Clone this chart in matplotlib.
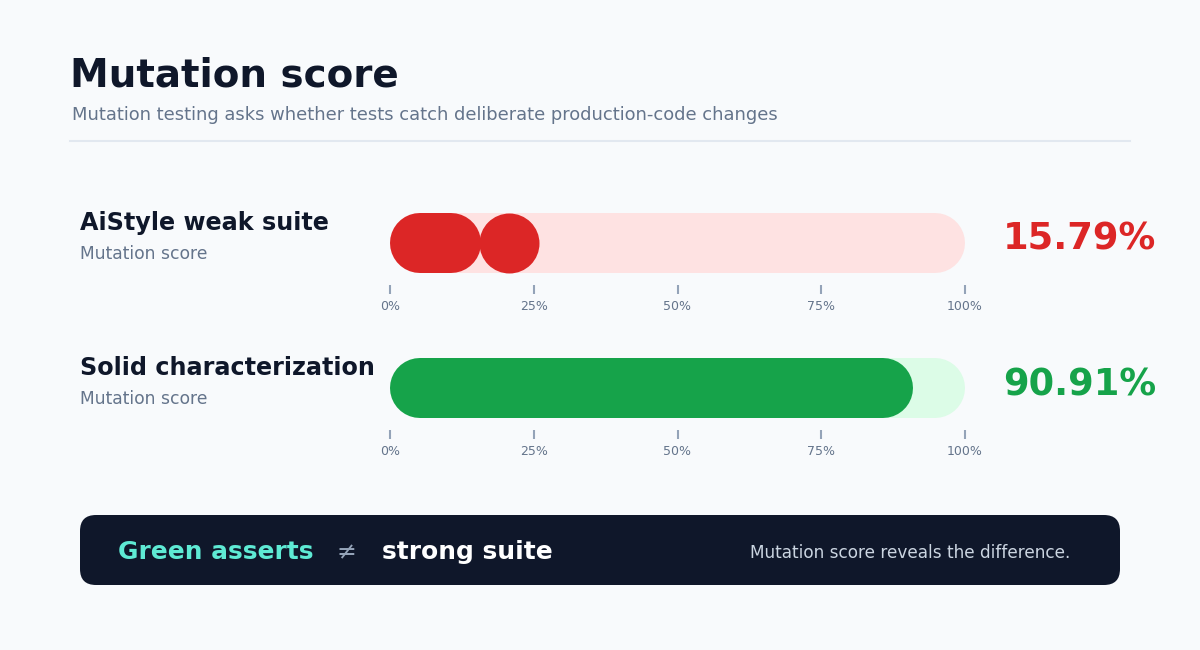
import numpy as np
import matplotlib
matplotlib.use("Agg")
import matplotlib.pyplot as plt
from matplotlib.patches import FancyBboxPatch

plt.rcParams['font.family'] = ['DejaVu Sans']

# data
suites = ['AiStyle weak suite', 'Solid characterization']
scores = [15.79, 90.91]
bar_colors = ['#dc2626', '#16a34a']
track_colors = ['#fee2e2', '#dcfce7']
tick_vals = [0, 25, 50, 75, 100]
tick_labels = ['0%', '25%', '50%', '75%', '100%']

W, H = 1200, 650
bg = '#f8fafc'
dark = '#0f172a'
gray = '#64748b'

fig = plt.figure(figsize=(W / 100, H / 100), dpi=100)
fig.patch.set_facecolor(bg)

# base layer in pixel coords (y down)
ax0 = fig.add_axes([0, 0, 1, 1])
ax0.set_xlim(0, W)
ax0.set_ylim(H, 0)
ax0.axis('off')
ax0.set_facecolor(bg)

ax0.text(70, 86.5, 'Mutation score', fontsize=28, fontweight='bold', color=dark, va='baseline')
ax0.text(72, 120, 'Mutation testing asks whether tests catch deliberate production-code changes',
         fontsize=12.9, color=gray, va='baseline')
ax0.plot([70, 1130], [141, 141], color='#e2e8f0', lw=1.5)

bar_x0, bar_w = 390, 575
bar_h = 60
row_top = [213, 358]
r = bar_h / 2 / bar_w * 100  # cap radius in data units
lw_pt = bar_h * 0.72

for i, (name, val) in enumerate(zip(suites, scores)):
    top = row_top[i]
    ax0.text(80, top + 17, name, fontsize=17.2, fontweight='bold', color=dark, va='baseline')
    ax0.text(80, top + 46, 'Mutation score', fontsize=12.3, color=gray, va='baseline')
    ax0.text(1003, top + 37, f'{val:.2f}%', fontsize=26.5, fontweight='bold',
             color=bar_colors[i], va='baseline')

    # bar axes: covers bar + gap down to ticks (72 px tall)
    ax = fig.add_axes([bar_x0 / W, (H - top - 72) / H, bar_w / W, 72 / H])
    ax.set_xlim(0, 100)
    ax.set_ylim(0, 72)
    ax.set_facecolor('none')
    for s in ax.spines.values():
        s.set_visible(False)
    ax.set_yticks([])
    ax.set_xticks(tick_vals)
    ax.set_xticklabels(tick_labels)
    ax.tick_params(axis='x', direction='out', length=6.3, width=1.5, color='#94a3b8',
                   labelsize=9, labelcolor=gray, pad=4.2)

    yc = 72 - bar_h / 2
    ax.plot([r, 100 - r], [yc, yc], color=track_colors[i], lw=lw_pt,
            solid_capstyle='round', clip_on=False)
    ax.plot([r, val - r], [yc, yc], color=bar_colors[i], lw=lw_pt,
            solid_capstyle='round', clip_on=False)
    if val < 50:
        # end knob drawn past the short bar
        ax.plot([val + r - 0.3], [yc], 'o', ms=lw_pt, color=bar_colors[i], mew=0, clip_on=False)

# bottom banner
banner = FancyBboxPatch((80, 515), 1040, 70, boxstyle='round,pad=0,rounding_size=16',
                        facecolor=dark, edgecolor='none')
ax0.add_patch(banner)
ax0.text(118, 559, 'Green asserts', fontsize=17.9, fontweight='bold', color='#5eead4', va='baseline')
ax0.text(346, 559, '≠', fontsize=17, color='#94a3b8', va='baseline', ha='center')
ax0.text(382, 559, 'strong suite', fontsize=17.9, fontweight='bold', color='white', va='baseline')
ax0.text(1070, 558, 'Mutation score reveals the difference.', fontsize=12.2, color='#cbd5e1',
         va='baseline', ha='right')

fig.savefig('out.png', dpi=100, facecolor=bg)
